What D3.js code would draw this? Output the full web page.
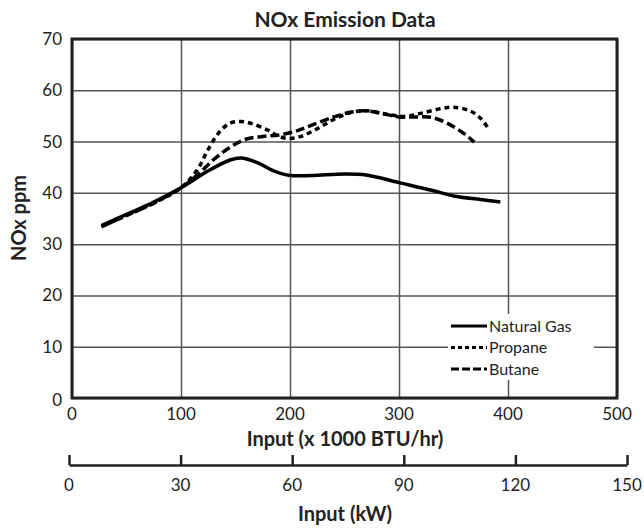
<!DOCTYPE html>
<html>
<head>
<meta charset="utf-8">
<script src="https://cdn.jsdelivr.net/npm/d3@7"></script>
<style>
  body { margin: 0; background: #fff; }
  svg { font-family: Lato, "Open Sans", sans-serif; }
  .grid line { stroke: #555; stroke-width: 1.5; }
  .grid path { display: none; }
</style>
</head>
<body>
<svg width="644" height="529"></svg>
<script>
// input (x1000 BTU/hr) and NOx ppm
var gasX = [27, 50, 75, 100, 125, 145, 155, 170, 185, 200, 220, 250, 270, 300, 330, 350, 375, 393];
var gasY = [33.6, 35.8, 38.2, 41.0, 44.3, 46.4, 46.8, 45.9, 44.3, 43.4, 43.4, 43.7, 43.5, 42.0, 40.5, 39.4, 38.7, 38.2];

var propaneX = [27, 50, 75, 100, 115, 125, 135, 145, 155, 165, 180, 190, 200, 210, 225, 240, 255, 270, 290, 305, 320, 340, 350, 365, 375, 383];
var propaneY = [33.4, 35.6, 38.0, 41.0, 44.5, 48.5, 51.8, 53.6, 53.9, 53.5, 52.2, 51.0, 50.6, 51.0, 52.5, 54.3, 55.6, 56.0, 55.3, 54.9, 55.5, 56.5, 56.7, 56.0, 54.5, 52.2];

var butaneX = [27, 50, 75, 100, 115, 130, 145, 160, 175, 190, 205, 220, 240, 255, 270, 290, 300, 315, 330, 345, 360, 369];
var butaneY = [33.4, 35.6, 38.0, 41.0, 43.5, 46.5, 48.9, 50.5, 51.0, 51.3, 52.0, 53.2, 54.8, 55.7, 56.0, 55.2, 54.8, 54.8, 54.7, 53.5, 51.5, 49.9];

var seriesNames = ["Natural Gas", "Propane", "Butane"];
var btuTicks = [0, 100, 200, 300, 400, 500];
var kwTicks = [0, 30, 60, 90, 120, 150];
var ppmTicks = [0, 10, 20, 30, 40, 50, 60, 70];

var svg = d3.select("svg"),
    plotL = 72, plotR = 617, plotT = 39, plotB = 398;

var x = d3.scaleLinear().domain([0, 500]).range([plotL, plotR]);
var y = d3.scaleLinear().domain([0, 70]).range([plotB, plotT]);
var kw = d3.scaleLinear().domain([0, 150]).range([69, 627]);

// grid
svg.append("g")
    .attr("class", "grid")
    .attr("transform", "translate(0," + plotB + ")")
    .call(d3.axisBottom(x).tickValues(btuTicks).tickSize(-(plotB - plotT)).tickFormat(""));
svg.append("g")
    .attr("class", "grid")
    .attr("transform", "translate(" + plotL + ",0)")
    .call(d3.axisLeft(y).tickValues(ppmTicks).tickSize(-(plotR - plotL)).tickFormat(""));

// tick labels
svg.append("g").selectAll("text")
    .data(btuTicks)
    .enter().append("text")
    .attr("x", function (d) { return x(d); })
    .attr("y", 414)
    .attr("dy", "0.35em")
    .attr("text-anchor", "middle")
    .attr("font-size", "17px")
    .attr("fill", "#222")
    .text(function (d) { return d; });

svg.append("g").selectAll("text")
    .data(ppmTicks)
    .enter().append("text")
    .attr("x", 62)
    .attr("y", function (d) { return d == 0 ? y(d) + 2 : y(d); })
    .attr("dy", "0.35em")
    .attr("text-anchor", "end")
    .attr("font-size", "17px")
    .attr("fill", "#222")
    .text(function (d) { return d; });

// series
var series = [
  { name: seriesNames[0], xs: gasX, ys: gasY, dash: null },
  { name: seriesNames[1], xs: propaneX, ys: propaneY, dash: "5,4" },
  { name: seriesNames[2], xs: butaneX, ys: butaneY, dash: "9,4" }
];

var line = d3.line()
    .x(function (d) { return x(d[0]); })
    .y(function (d) { return y(d[1]); })
    .curve(d3.curveCatmullRom.alpha(0.5));

svg.append("g").selectAll("path")
    .data(series)
    .enter().append("path")
    .attr("d", function (s) { return line(d3.zip(s.xs, s.ys)); })
    .attr("fill", "none")
    .attr("stroke", "#000")
    .attr("stroke-width", 3.5)
    .attr("stroke-dasharray", function (s) { return s.dash; });

// legend
var legend = svg.append("g");
legend.append("rect")
    .attr("x", 448).attr("y", 314)
    .attr("width", 146).attr("height", 66)
    .attr("fill", "#fff");

var item = legend.selectAll(".item")
    .data(series)
    .enter().append("g")
    .attr("transform", function (d, i) { return "translate(451," + (326 + i * 21.5) + ")"; });

item.append("line")
    .attr("x1", 0).attr("x2", 36)
    .attr("stroke", "#000")
    .attr("stroke-width", 3)
    .attr("stroke-dasharray", function (s) { return s.dash == null ? null : (s.name == "Propane" ? "4,3" : "8,3"); });

item.append("text")
    .attr("x", 38)
    .attr("dy", "0.35em")
    .attr("font-size", "16px")
    .attr("fill", "#222")
    .text(function (s) { return s.name; });

// frame
svg.append("rect")
    .attr("x", plotL).attr("y", plotT)
    .attr("width", plotR - plotL).attr("height", plotB - plotT)
    .attr("fill", "none")
    .attr("stroke", "#222")
    .attr("stroke-width", 3);

// kW axis
var kwAxis = svg.append("g")
    .attr("transform", "translate(0,465)")
    .call(d3.axisTop(kw).tickValues(kwTicks).tickSize(10).tickSizeOuter(0).tickFormat(""));
kwAxis.select("path").attr("stroke", "#222").attr("stroke-width", 2.5);
kwAxis.selectAll("line").attr("stroke", "#222").attr("stroke-width", 2.5);

svg.append("g").selectAll("text")
    .data(kwTicks)
    .enter().append("text")
    .attr("x", function (d) { return kw(d); })
    .attr("y", 485)
    .attr("dy", "0.35em")
    .attr("text-anchor", "middle")
    .attr("font-size", "17px")
    .attr("fill", "#222")
    .text(function (d) { return d; });

// titles
svg.append("text")
    .attr("x", 345).attr("y", 20)
    .attr("dy", "0.35em")
    .attr("text-anchor", "middle")
    .attr("font-size", "21px")
    .attr("font-weight", "bold")
    .attr("fill", "#222")
    .text("NOx Emission Data");

svg.append("text")
    .attr("x", 345).attr("y", 439)
    .attr("dy", "0.35em")
    .attr("text-anchor", "middle")
    .attr("font-size", "20px")
    .attr("font-weight", "bold")
    .attr("fill", "#222")
    .text("Input (x 1000 BTU/hr)");

svg.append("text")
    .attr("x", 345).attr("y", 514)
    .attr("dy", "0.35em")
    .attr("text-anchor", "middle")
    .attr("font-size", "20px")
    .attr("font-weight", "bold")
    .attr("fill", "#222")
    .text("Input (kW)");

svg.append("text")
    .attr("transform", "translate(19,218) rotate(-90)")
    .attr("dy", "0.35em")
    .attr("text-anchor", "middle")
    .attr("font-size", "20px")
    .attr("font-weight", "bold")
    .attr("fill", "#222")
    .text("NOx ppm");
</script>
</body>
</html>
